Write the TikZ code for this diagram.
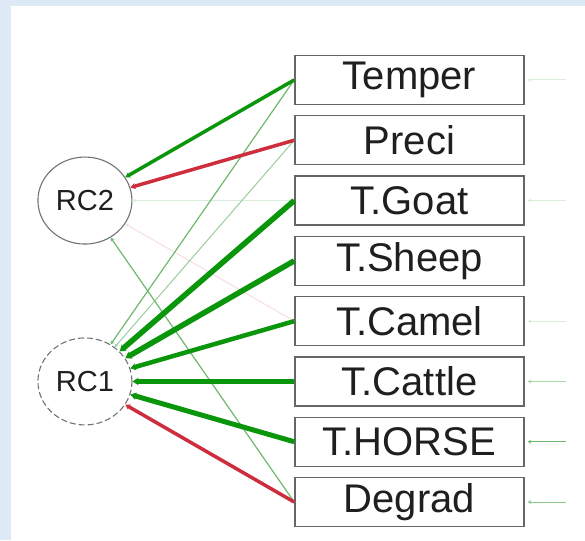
\documentclass[tikz,border=0pt]{standalone}
\usepackage{fontspec}
\setmainfont{Liberation Sans}
\usetikzlibrary{matrix,arrows.meta,shapes.geometric}

\definecolor{pgreen}{RGB}{10,150,10}
\definecolor{pred}{RGB}{205,45,60}
\definecolor{lgreen}{RGB}{110,185,110}
\definecolor{fgreen}{RGB}{218,236,218}
\definecolor{fred}{RGB}{246,222,222}
\definecolor{panel}{RGB}{222,233,246}

\tikzset{
	var/.style={draw=black!60,line width=1.4pt,minimum width=229pt,minimum height=49pt,inner sep=0pt,font=\fontsize{40}{42}\selectfont,text=black!88},
	fac/.style={ellipse,draw=black!55,line width=1.1pt,minimum width=94pt,minimum height=87pt,inner sep=0pt,font=\fontsize{29}{31}\selectfont,text=black!88},
	ld/.style={-{Stealth[length=3pt 0.6,width=3pt 0.9]}},
}

\begin{document}
\begin{tikzpicture}[x=1pt,y=1pt]
	\fill[panel] (0,0) rectangle (585,540);
	\fill[white] (11,0) rectangle (585,534);
	\useasboundingbox (0,0) rectangle (585,540);
	\matrix (m) at (281,249) [matrix of nodes,nodes={anchor=center},column sep={324.5pt,between origins},row sep={60.3pt,between origins}]
	{
		& |[var]| Temper\\
		& |[var]| Preci\\
		|[fac]| RC2 & |[var]| T.Goat\\
		& |[var]| T.Sheep\\
		& |[var]| T.Camel\\
		|[fac,dash pattern=on 6pt off 3pt]| RC1 & |[var]| T.Cattle\\
		& |[var]| T.HORSE\\
		& |[var]| Degrad\\
	};
	\path[ld]
	(m-3-2.west)	edge[fgreen,line width=1pt] (m-3-1)
	(m-5-2.west)	edge[fred,line width=1pt] (m-3-1)
	(m-2-2.west)	edge[lgreen!70,line width=1pt] (m-6-1)
	(m-1-2.west)	edge[lgreen,line width=1.2pt] (m-6-1)
	(m-8-2.west)	edge[lgreen,line width=1.2pt] (m-3-1)
	(m-1-2.west)	edge[pgreen,line width=3.5pt] (m-3-1)
	(m-2-2.west)	edge[pred,line width=3.5pt] (m-3-1)
	(m-3-2.west)	edge[pgreen,line width=5.5pt] (m-6-1)
	(m-4-2.west)	edge[pgreen,line width=5.5pt] (m-6-1)
	(m-5-2.west)	edge[pgreen,line width=4.5pt] (m-6-1)
	(m-6-2.west)	edge[pgreen,line width=5pt] (m-6-1)
	(m-7-2.west)	edge[pgreen,line width=5pt] (m-6-1)
	(m-8-2.west)	edge[pred,line width=3.5pt] (m-6-1);
	\foreach \r/\c in {1/fgreen,3/fgreen,5/fgreen,6/lgreen!60,7/lgreen,8/lgreen!80}
	{
		\coordinate (r\r) at ([xshift=41pt]m-\r-2.east);
		\draw[ld,\c,line width=1pt,shorten >=3pt] (r\r) -- (m-\r-2);
	}
\end{tikzpicture}
\end{document}
